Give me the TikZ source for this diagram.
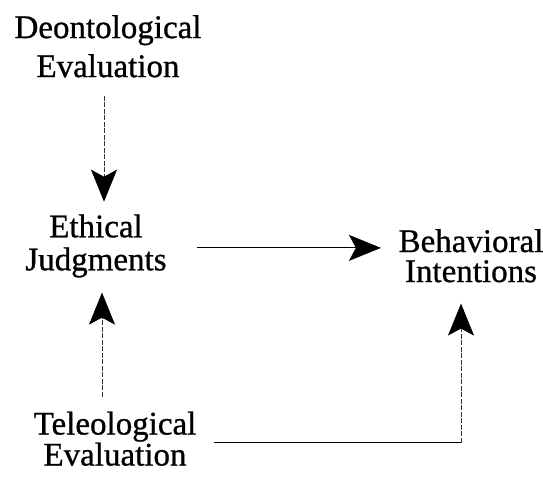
\documentclass[tikz,border=0pt]{standalone}
\usepackage{fontspec}
\setmainfont{Liberation Serif}[FakeBold=0.8]
\usetikzlibrary{arrows.meta}

\tikzset{
  label/.style={inner sep=0pt, align=center},
  head/.style={-{Stealth[length=32pt,width=26pt,inset=7pt,color=black]}},
  solidline/.style={line width=1pt, black},
  dashline/.style={line width=0.7pt, black!80, dash pattern=on 5pt off 1.5pt},
}

\begin{document}
\begin{tikzpicture}[x=1pt,y=1pt]
\useasboundingbox[fill=white] (0,0) rectangle (543,478);

% the four constructs
\node[label, font=\fontsize{33}{39}\selectfont] (deon) at (108,431.7) {Deontological\\Evaluation};
\node[label, font=\fontsize{33}{33}\selectfont] (eth)  at (96,232.1)  {Ethical\\Judgments};
\node[label, font=\fontsize{33}{30}\selectfont] (beh)  at (471,222.25) {Behavioral\\Intentions};
\node[label, font=\fontsize{33}{30}\selectfont] (tel)  at (115,39.25) {Teleological\\Evaluation};

% deontological -> ethical
\draw[dashline, head] ([xshift=-4pt,yshift=-18pt]deon.south) -- ([xshift=8pt,yshift=12.5pt]eth.north);

% teleological -> ethical
\draw[dashline, head] ([xshift=-13pt,yshift=14.5pt]tel.north) -- ([xshift=6pt,yshift=-15pt]eth.south);

% ethical -> behavioral
\coordinate (h1) at ([xshift=30pt,yshift=-2pt]eth.east);
\draw[solidline, head, shorten >=17.5pt] (h1) -- (h1 -| beh.west);

% teleological -> behavioral (around the corner)
\coordinate (t1) at ([xshift=17pt,yshift=-4.25pt]tel.east);
\coordinate (t2) at ([xshift=-10pt]beh.south |- t1);
\draw[solidline] (t1) -- (t2);
\draw[dashline, head, shorten >=21pt] (t2) -- ([xshift=-10pt]beh.south);
\end{tikzpicture}
\end{document}
